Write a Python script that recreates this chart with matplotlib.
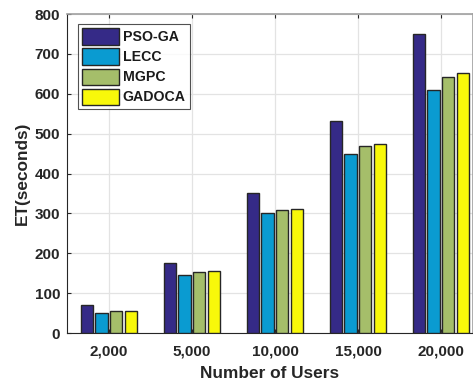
import numpy as np
import matplotlib
matplotlib.use("Agg")
import matplotlib.pyplot as plt

# data
users = ["2,000", "5,000", "10,000", "15,000", "20,000"]
pso_ga = [70, 176, 352, 532, 750]
lecc = [49, 145, 301, 449, 609]
mgpc = [55, 152, 308, 468, 641]
gadoca = [55, 156, 311, 474, 651]

names = ["PSO-GA", "LECC", "MGPC", "GADOCA"]
colors = ["#352A87", "#0A9BD1", "#A5BE6A", "#F8F80A"]

plt.rcParams['font.family'] = ['Liberation Sans', 'DejaVu Sans']
plt.rcParams['font.weight'] = 'bold'

fig = plt.figure(figsize=(4.73, 3.83), dpi=100)
ax = fig.add_axes([0.1416, 0.1305, 0.8584, 0.8329])

x = np.arange(1, len(users) + 1)
offsets = [-0.27, -0.09, 0.09, 0.27]
width = 0.145
for vals, name, col, off in zip([pso_ga, lecc, mgpc, gadoca], names, colors, offsets):
    ax.bar(x + off, vals, width, color=col, edgecolor="#262626", linewidth=1.0,
           label=name, zorder=3)

ax.set_xlim(0.494, 5.386)
ax.set_ylim(0, 800)
ax.set_xticks(x)
ax.set_xticklabels(users)
ax.set_yticks(range(0, 801, 100))
ax.grid(True, color="#e3e3e3", linewidth=0.9, zorder=0)
ax.tick_params(axis="both", direction="in", length=3, labelsize=11,
               labelcolor="#262626", color="#262626", top=True)
ax.tick_params(axis="x", pad=8)
ax.tick_params(axis="y", pad=5)
for lab in ax.get_xticklabels() + ax.get_yticklabels():
    lab.set_fontweight("bold")
for s in ["left", "bottom"]:
    ax.spines[s].set_color("#262626")
for s in ["top", "right"]:
    ax.spines[s].set_color("#a0a0a0")
    ax.spines[s].set_linewidth(1.2)

ax.set_xlabel("Number of Users", fontsize=12.4, fontweight="bold", color="#262626", labelpad=6)
ax.set_ylabel("ET(seconds)", fontsize=12.4, fontweight="bold", color="#262626", labelpad=3)

leg = ax.legend(loc="upper left", bbox_to_anchor=(0.027, 0.969), fontsize=10.2,
                frameon=True, fancybox=False, edgecolor="#262626",
                handlelength=2.6, handleheight=1.4, handletextpad=0.25,
                labelspacing=0.26, borderpad=0.32, borderaxespad=0)
leg.get_frame().set_linewidth(0.8)
for t in leg.get_texts():
    t.set_fontweight("bold")
    t.set_color("#1a1a1a")

fig.savefig("out.png", dpi=100)
